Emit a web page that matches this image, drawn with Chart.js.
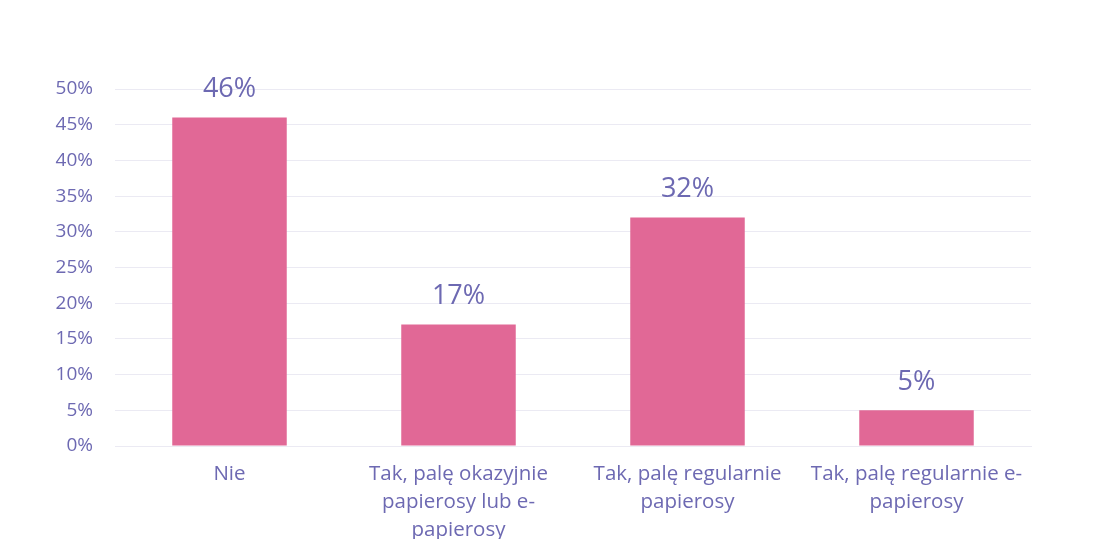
<!DOCTYPE html>
<html>
<head>
<meta charset="utf-8">
<script src="https://cdn.jsdelivr.net/npm/chart.js@4/dist/chart.umd.min.js"></script>
<style>
  html, body { margin: 0; padding: 0; background: #fff; }
  #wrap { width: 1102px; height: 539px; }
</style>
</head>
<body>
<div id="wrap"><canvas id="chart"></canvas></div>
<script>
// dane wykresu
var kategorie = [
    'Nie',
    ['Tak, palę okazyjnie', 'papierosy lub e-', 'papierosy'],
    ['Tak, palę regularnie', 'papierosy'],
    ['Tak, palę regularnie e-', 'papierosy']
];
var procenty = [46, 17, 32, 5];
var yMax = 50;
var yKrok = 5;

var kolorTekstu = '#6d69b2';
var kolorSlupka = '#e16896';
var czcionka = '"Open Sans", Lato, sans-serif';

// etykiety z wartościami nad słupkami
var etykietyPlugin = {
    id: 'etykiety',
    afterDatasetsDraw: function (chart) {
        var ctx = chart.ctx;
        var meta = chart.getDatasetMeta(0);
        ctx.save();
        ctx.fillStyle = kolorTekstu;
        ctx.font = '27px ' + czcionka;
        ctx.textAlign = 'center';
        ctx.textBaseline = 'middle';
        meta.data.forEach(function (bar, i) {
            ctx.fillText(procenty[i] + '%', bar.x, bar.y - 28);
        });
        ctx.restore();
    }
};

var ctx = document.getElementById('chart').getContext('2d');
var chart = new Chart(ctx, {
    type: 'bar',
    data: {
        labels: kategorie,
        datasets: [{
            data: procenty,
            backgroundColor: kolorSlupka,
            categoryPercentage: 1,
            barPercentage: 0.5
        }]
    },
    options: {
        responsive: true,
        maintainAspectRatio: false,
        animation: false,
        layout: { padding: { top: 89, right: 71, left: 40, bottom: 0 } },
        plugins: {
            legend: { display: false },
            tooltip: { enabled: false }
        },
        scales: {
            y: {
                min: 0,
                max: yMax,
                afterFit: function (s) { s.width = 75; },
                border: { display: false },
                grid: { color: '#ebeaf3', drawTicks: false },
                ticks: {
                    stepSize: yKrok,
                    padding: 22,
                    color: kolorTekstu,
                    font: { family: czcionka, size: 19 },
                    callback: function (v) { return v + '%'; }
                }
            },
            x: {
                afterFit: function (s) { s.height = 93; },
                border: { display: true, color: '#ebeaf3' },
                grid: { display: false },
                ticks: {
                    padding: 6,
                    maxRotation: 0,
                    autoSkip: false,
                    color: kolorTekstu,
                    font: { family: czcionka, size: 20.5, lineHeight: 1.36 }
                }
            }
        }
    },
    plugins: [etykietyPlugin]
});
</script>
</body>
</html>
